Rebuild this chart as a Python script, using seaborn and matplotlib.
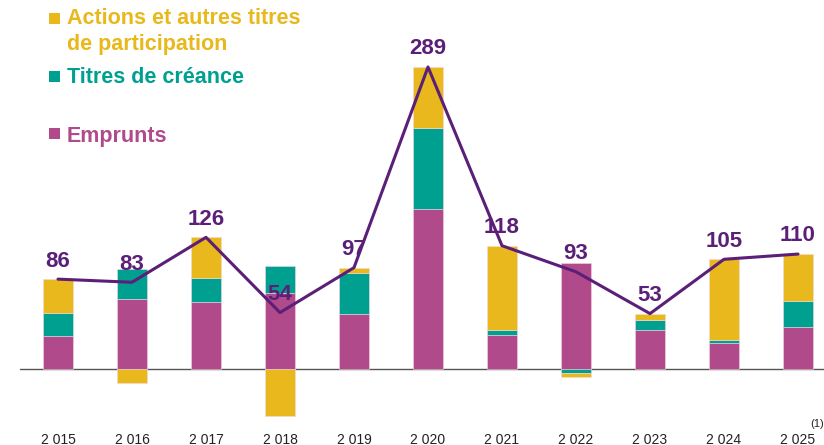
import seaborn as sns
import matplotlib.pyplot as plt
from matplotlib.patches import Rectangle
import numpy as np
import pandas as pd

years = ["2 015", "2 016", "2 017", "2 018", "2 019", "2 020",
         "2 021", "2 022", "2 023", "2 024", "2 025"]
emprunts = [32, 67, 64, 73, 53, 153, 33, 101, 37, 25, 40]
titres_creance = [22, 29, 23, 26, 39, 78, 4, -4, 10, 3, 25]
actions = [32, -13, 39, -45, 5, 58, 81, -4, 6, 77, 45]
totals = [86, 83, 126, 54, 97, 289, 118, 93, 53, 105, 110]

series_names = ["Emprunts", "Titres de créance", "Actions et autres titres\nde participation"]
colors = {"Emprunts": "#B04A8A",
          "Titres de créance": "#00A091",
          "Actions et autres titres\nde participation": "#E8B81C"}
line_color = "#5B1F78"

sns.set_theme(style="white")
plt.rcParams['font.family'] = ['Liberation Sans', 'DejaVu Sans']

fig = plt.figure(figsize=(8.24, 4.45), dpi=100)
ax = fig.add_axes([0, 25 / 445, 1, 420 / 445])

x = np.arange(len(years))
pos_bottom = np.zeros(len(years))
neg_bottom = np.zeros(len(years))
for name, vals in zip(series_names, [emprunts, titres_creance, actions]):
    vals = np.array(vals, dtype=float)
    bottom = np.where(vals >= 0, pos_bottom, neg_bottom)
    ax.bar(x, vals, width=0.41, bottom=bottom, color=colors[name],
           edgecolor="#f3d6e6", linewidth=0.4, zorder=2)
    pos_bottom += np.where(vals >= 0, vals, 0)
    neg_bottom += np.where(vals < 0, vals, 0)

ax.plot([-0.52, 11], [0, 0], color="#555555", lw=1.0, zorder=1)

df = pd.DataFrame({"x": x, "total": totals})
sns.lineplot(data=df, x="x", y="total", color=line_color, lw=2.2, ax=ax,
             zorder=3, legend=False)
for xi, t in zip(x, totals):
    ax.annotate(str(t), (xi, t), xytext=(0, 13), textcoords="offset points",
                ha="center", va="center", fontsize=16, fontweight="bold",
                color=line_color, zorder=4)

ax.set_xlim(-58 / 74, (824 - 58) / 74)
ax.set_ylim(-(420 - 369) / 1.045, 369 / 1.045)
ax.set_xticks(x)
ax.set_xticklabels(years, fontsize=10, color="#222222")
ax.tick_params(axis="x", length=0, pad=9)
ax.set_yticks([])
ax.set_xlabel("")
ax.set_ylabel("")
for s in ax.spines.values():
    s.set_visible(False)

fig.text(810 / 824, 1 - 424 / 445, "(1)", fontsize=8, color="#222222",
         ha="left", va="center")

# legend drawn by hand: (label, baseline y of first line in px, square top y in px)
legend_items = [("Actions et autres titres\nde participation", 24, 13),
                ("Titres de créance", 83, 71),
                ("Emprunts", 142, 128)]
for name, base, sq_top in legend_items:
    col = colors[name]
    fig.add_artist(Rectangle((49 / 824, 1 - (sq_top + 11) / 445), 11 / 824, 11 / 445,
                             transform=fig.transFigure, color=col, lw=0))
    for i, line in enumerate(name.split("\n")):
        fig.text(67 / 824, 1 - (base + 26 * i) / 445, line, fontsize=15.5,
                 fontweight="bold", color=col, ha="left", va="baseline")

fig.savefig("out.png", dpi=100)
